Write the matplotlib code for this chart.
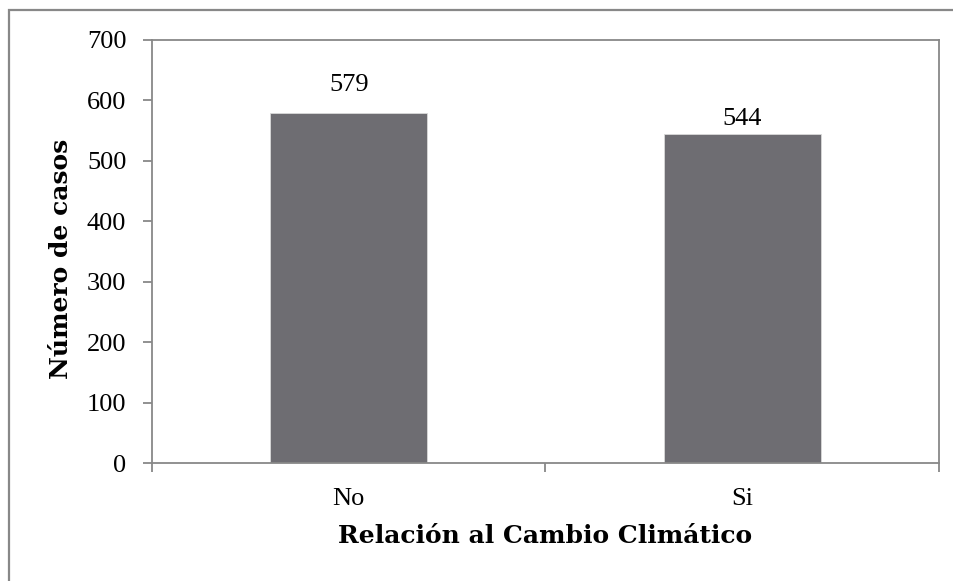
import matplotlib.pyplot as plt
from matplotlib.patches import Rectangle

categorias = ["No", "Si"]
casos = [579, 544]
# vertical offset (points) of each value label above its bar
desfase_etiqueta = [12, 3]

fuente = ['Liberation Serif', 'DejaVu Serif']
plt.rcParams['font.family'] = fuente

fig = plt.figure(figsize=(9.54, 5.81), dpi=100)
ax = fig.add_axes([152 / 954, 1 - 463 / 581, (939 - 152) / 954, (463 - 40) / 581])

gris = '#888888'
x = range(len(categorias))
barras = ax.bar(x, casos, width=0.4, color='#6e6d72', edgecolor='#d9d9d9', linewidth=0.6)

for xi, v, d in zip(x, casos, desfase_etiqueta):
    ax.annotate(str(v), (xi, v), xytext=(0, d), textcoords='offset points',
                ha='center', va='bottom', fontsize=19, family=fuente)

ax.set_xlim(-0.5, len(categorias) - 0.5)
ax.set_ylim(0, 700)
ax.set_yticks(range(0, 701, 100))

ax.set_xticks(list(x))
ax.set_xticklabels(categorias)
ax.set_xticks([i - 0.5 for i in range(len(categorias) + 1)], minor=True)
ax.tick_params(axis='x', which='major', length=0, pad=18, labelsize=19)
ax.tick_params(axis='x', which='minor', length=6.5, width=1.3, color=gris, direction='out')
ax.tick_params(axis='y', length=6.5, width=1.3, color=gris, direction='out', pad=12, labelsize=19)
for t in ax.get_xticklabels() + ax.get_yticklabels():
    t.set_family(fuente)

for s in ax.spines.values():
    s.set_color(gris)
    s.set_linewidth(1.3)

ax.set_ylabel("Número de casos", fontsize=18, fontweight='bold', family='DejaVu Serif')
ax.set_xlabel("Relación al Cambio Climático", fontsize=18, fontweight='bold', family='DejaVu Serif',
              labelpad=10)
ax.yaxis.set_label_coords(-0.100, 0.482)

# chart frame
fig.patches.append(Rectangle((9 / 954, -0.1), 1.1, 1 - 10 / 581 + 0.1, transform=fig.transFigure,
                             fill=False, edgecolor=gris, linewidth=1.6))

fig.savefig("out.png", dpi=100)
